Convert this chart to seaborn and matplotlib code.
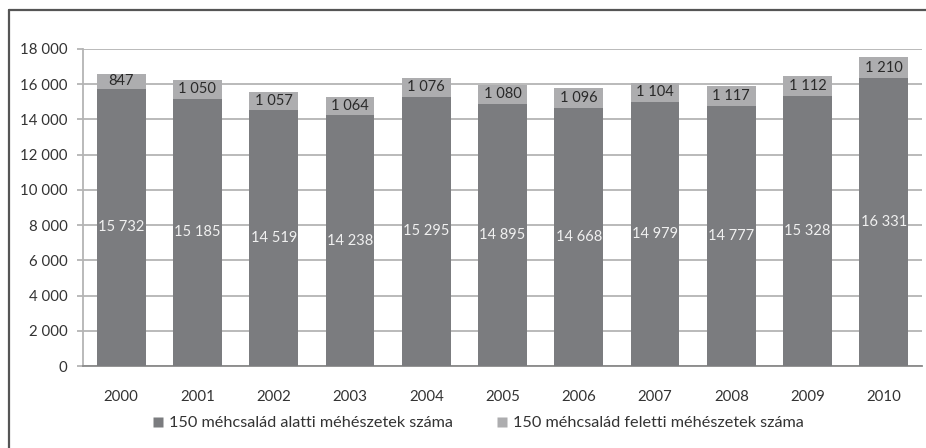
import matplotlib
matplotlib.use("Agg")
import matplotlib.pyplot as plt
import seaborn as sns
import pandas as pd
import numpy as np
from matplotlib.lines import Line2D

years = ["2000", "2001", "2002", "2003", "2004", "2005", "2006", "2007", "2008", "2009", "2010"]
below_150 = [15732, 15185, 14519, 14238, 15295, 14895, 14668, 14979, 14777, 15328, 16331]
above_150 = [847, 1050, 1057, 1064, 1076, 1080, 1096, 1104, 1117, 1112, 1210]
series_names = ["150 méhcsalád alatti méhészetek száma", "150 méhcsalád feletti méhészetek száma"]
yticks = [0, 2000, 4000, 6000, 8000, 10000, 12000, 14000, 16000, 18000]

sns.set_theme(style="white")
plt.rcParams['font.family'] = ['Lato', 'DejaVu Sans']

dark = "#7b7c7f"
light = "#adadaf"
gridc = "#b4b4b4"
textc = "#333333"

df = pd.DataFrame({"year": years, "below": below_150, "above": above_150})
df["total"] = df["below"] + df["above"]

fig = plt.figure(figsize=(9.26, 4.48), dpi=100)
ax = fig.add_axes([83/926, 1-366/448, (922-83)/926, 317/448])

sns.barplot(data=df, x="year", y="total", color=light, width=0.64, ax=ax,
            saturation=1, edgecolor="none")
sns.barplot(data=df, x="year", y="below", color=dark, width=0.64, ax=ax,
            saturation=1, edgecolor="none")
for p in ax.patches:
    p.set_clip_on(False)
    p.set_zorder(3)

ax.set_ylim(0, 18000)
ax.set_xlim(-0.5, len(years) - 0.5)
ax.set_yticks(yticks)
ax.set_yticklabels([f"{v:,}".replace(",", " ") for v in yticks])
ax.yaxis.grid(True, color=gridc, linewidth=1.3)
ax.set_axisbelow(True)
ax.set_xlabel("")
ax.set_ylabel("")
for s in ["top", "right"]:
    ax.spines[s].set_visible(False)
ax.spines["left"].set_color(gridc)
ax.spines["left"].set_linewidth(1.3)
ax.spines["bottom"].set_color("#8a8a8a")
ax.spines["bottom"].set_linewidth(1.3)
ax.tick_params(axis="y", which="both", left=True, length=4, width=1.3, color=gridc,
               labelsize=10.8, labelcolor=textc, pad=7)
ax.tick_params(axis="x", bottom=False, labelsize=10.8, labelcolor=textc, pad=11.5)

for i in range(len(years)):
    b = below_150[i]
    a = above_150[i]
    ax.text(i, b / 2, f"{b:,}".replace(",", " "), ha="center", va="center",
            color="#f0f0f0", fontsize=10.5, zorder=5)
    ax.text(i, b + a / 2, f"{a:,}".replace(",", " "), ha="center", va="center",
            color="#2a2a2a", fontsize=10.5, zorder=5)

handles = [Line2D([0], [0], marker="s", linestyle="none", markersize=6.5,
                  markerfacecolor=dark, markeredgecolor="none"),
           Line2D([0], [0], marker="s", linestyle="none", markersize=6.5,
                  markerfacecolor=light, markeredgecolor="none")]
fig.legend(handles, series_names, loc="center", bbox_to_anchor=(0.516, 1-423/448),
           ncol=2, frameon=False, fontsize=11.7, handletextpad=0.3,
           columnspacing=2.6, labelcolor=textc, handlelength=0.8)

# outer frame (partially visible box)
fig.add_artist(Line2D([9/926, 9/926], [0, 1-10/448], transform=fig.transFigure,
                      color="#555555", linewidth=1.6))
fig.add_artist(Line2D([9/926, 1], [1-10/448, 1-10/448], transform=fig.transFigure,
                      color="#555555", linewidth=1.6))

fig.savefig("out.png", dpi=100)
